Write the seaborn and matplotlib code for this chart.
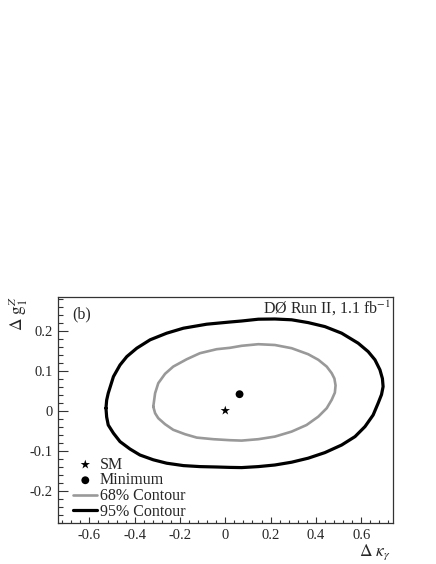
import numpy as np
import pandas as pd
import matplotlib
matplotlib.use("Agg")
import matplotlib.pyplot as plt
from matplotlib.ticker import MultipleLocator
import seaborn as sns

# 95% contour points (Delta kappa_gamma, Delta g1^Z)
c95_x = [-0.527, -0.524, -0.517, -0.494, -0.465, -0.421, -0.377, -0.318, -0.259, -0.185,
         -0.112, -0.038, 0.021, 0.072, 0.146, 0.219, 0.293, 0.366, 0.440, 0.514,
         0.573, 0.617, 0.653, 0.675, 0.690, 0.697, 0.694, 0.683, 0.661, 0.631,
         0.587, 0.514, 0.440, 0.366, 0.293, 0.219, 0.146, 0.072, 0.021, -0.082,
         -0.185, -0.259, -0.332, -0.391, -0.435, -0.465, -0.494, -0.517, -0.524, -0.527]
c95_y = [0.006, -0.016, -0.036, -0.0565, -0.0775, -0.096, -0.111, -0.123, -0.1315, -0.1375,
         -0.140, -0.141, -0.142, -0.1425, -0.140, -0.136, -0.129, -0.119, -0.105, -0.086,
         -0.065, -0.040, -0.011, 0.0185, 0.040, 0.060, 0.080, 0.102, 0.127, 0.1475,
         0.1685, 0.1935, 0.210, 0.220, 0.227, 0.229, 0.2285, 0.224, 0.2215, 0.216,
         0.206, 0.1935, 0.177, 0.156, 0.135, 0.114, 0.085, 0.0435, 0.026, 0.006]

# 68% contour points
c68_x = [-0.318, -0.310, -0.296, -0.266, -0.230, -0.178, -0.126, -0.053, 0.021, 0.072,
         0.146, 0.219, 0.293, 0.359, 0.411, 0.448, 0.470, 0.484, 0.487, 0.482,
         0.470, 0.448, 0.411, 0.366, 0.293, 0.219, 0.146, 0.072, 0.021, -0.038,
         -0.112, -0.170, -0.230, -0.266, -0.296, -0.310, -0.318]
c68_y = [0.010, -0.0065, -0.019, -0.034, -0.048, -0.059, -0.0675, -0.0715, -0.074, -0.075,
         -0.0715, -0.065, -0.0525, -0.036, -0.015, 0.006, 0.027, 0.045, 0.063, 0.080,
         0.0935, 0.110, 0.127, 0.141, 0.156, 0.164, 0.166, 0.162, 0.157, 0.1535,
         0.1435, 0.1285, 0.110, 0.092, 0.0685, 0.0435, 0.010]

sm_point = (0.0, 0.0)
min_point = (0.063, 0.041)

sns.set_style("ticks")
plt.rcParams['font.family'] = ['Liberation Serif', 'DejaVu Serif']
plt.rcParams['mathtext.fontset'] = 'stix'
plt.rcParams['axes.unicode_minus'] = False

fig = plt.figure(figsize=(4.36, 5.64), dpi=100)
ax = fig.add_axes([0.134, 0.0727, 0.767, 0.4007])

df95 = pd.DataFrame({'x': c95_x, 'y': c95_y})
df68 = pd.DataFrame({'x': c68_x, 'y': c68_y})

sns.lineplot(data=df68, x='x', y='y', sort=False, estimator=None, color='#999999',
             lw=1.9, ax=ax, label='68% Contour')
sns.lineplot(data=df95, x='x', y='y', sort=False, estimator=None, color='black',
             lw=2.3, ax=ax, label='95% Contour')
for line in ax.get_lines():
    line.set_solid_joinstyle('round')
sns.scatterplot(x=[sm_point[0]], y=[sm_point[1]], marker='*', s=50, color='black',
                edgecolor='none', ax=ax, label='SM', zorder=5)
sns.scatterplot(x=[min_point[0]], y=[min_point[1]], marker='o', s=32, color='black',
                edgecolor='none', ax=ax, label='Minimum', zorder=5)

ax.set_xlim(-0.737, 0.740)
ax.set_ylim(-0.281, 0.284)

ax.xaxis.set_major_locator(MultipleLocator(0.2))
ax.xaxis.set_minor_locator(MultipleLocator(0.04))
ax.yaxis.set_major_locator(MultipleLocator(0.1))
ax.yaxis.set_minor_locator(MultipleLocator(0.02))


def fmt(v, pos):
    if abs(v) < 1e-9:
        return '0'
    return ('%.1f' % v)


ax.xaxis.set_major_formatter(plt.FuncFormatter(fmt))
ax.yaxis.set_major_formatter(plt.FuncFormatter(fmt))

ax.tick_params(axis='both', which='both', direction='in', top=False, right=False,
               labelsize=10.5, width=0.8, color='#333333')
ax.tick_params(axis='x', which='major', length=4.5, pad=4)
ax.tick_params(axis='x', which='minor', length=2.3)
ax.tick_params(axis='y', which='major', length=7, pad=4)
ax.tick_params(axis='y', which='minor', length=3.6)

for s in ax.spines.values():
    s.set_linewidth(0.9)
    s.set_color('#333333')
    s.set_visible(True)

ax.set_xlabel('')
ax.set_ylabel('')
fig.text(391 / 436, 1 - 552 / 564, r'$\Delta\ \kappa_{\gamma}$', ha='right', va='center',
         fontsize=12.5)
fig.text(18 / 436, 1 - 296 / 564, r'$\Delta\ \mathrm{g}_{1}^{Z}$', ha='center', va='top',
         rotation=90, fontsize=12.5)

ax.text(0.04, 0.96, '(b)', transform=ax.transAxes, ha='left', va='top', fontsize=11.5)
ax.text(0.995, 0.993, 'DØ Run II, 1.1 fb$^{-1}$', transform=ax.transAxes, ha='right',
        va='top', fontsize=11.5)

handles, labels = ax.get_legend_handles_labels()
order = [labels.index(l) for l in ['SM', 'Minimum', '68% Contour', '95% Contour']]
ax.legend([handles[i] for i in order], [labels[i] for i in order], loc='lower left',
          bbox_to_anchor=(0.035, 0.0), frameon=False, fontsize=11.5, handlelength=1.5,
          handletextpad=0.15, labelspacing=-0.02, borderaxespad=0.1, borderpad=0.1)

fig.savefig('out.png', dpi=100)
